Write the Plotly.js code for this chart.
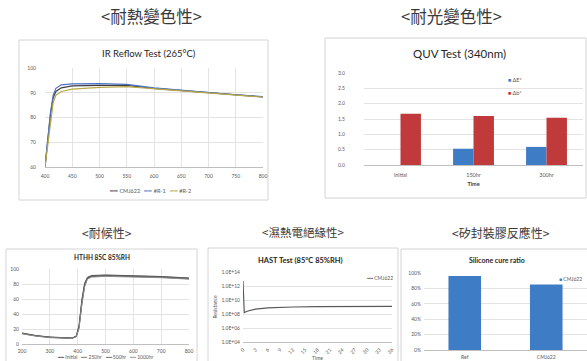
<!DOCTYPE html>
<html><head><meta charset="utf-8">
<script src="https://cdn.plot.ly/plotly-3.0.1.min.js"></script>
<style>html,body{margin:0;padding:0;background:#fff}#chart{width:587px;height:361px}</style>
</head><body><div id="chart"></div>
<script>
// IR reflow: reflectance (%) against wavelength (nm)
const irWavelength = [400, 405, 410, 415, 420, 430, 450, 500, 550, 600, 650, 700, 750, 800];
const irCMJ622 = [60, 70, 81, 88, 90.5, 92.0, 92.8, 93.0, 93.0, 91.8, 90.9, 89.9, 89.1, 88.3];
const irR1 = [60, 71, 82, 89, 91.8, 93.2, 93.6, 93.7, 93.4, 92.0, 91.0, 90.0, 89.2, 88.4];
const irR2 = [60, 68, 78, 86, 89.0, 90.5, 91.5, 92.2, 92.5, 91.6, 90.8, 89.8, 89.0, 88.2];

// QUV (340nm) colour shift by exposure time
const quvTime = ['initial', '150hr', '300hr'];
const quvDeltaE = [0, 0.53, 0.59];
const quvDeltab = [1.67, 1.60, 1.54];

// HTHH 85C 85%RH: reflectance (%) against wavelength (nm)
const hthhWavelength = [200, 250, 300, 350, 380, 395, 405, 415, 425, 435, 450, 500, 600, 700, 800];
const hthhInitial = [14.7, 11.3, 9.3, 8.0, 8.0, 10.7, 25, 58.7, 81, 89, 91.3, 92, 91.3, 90, 88];
const hthh250 = [14.2, 11.0, 9.0, 7.8, 7.8, 10.3, 23, 56, 79, 88, 90.5, 91.4, 90.8, 89.5, 87.5];
const hthh500 = [14.0, 10.8, 8.8, 7.6, 7.6, 10.0, 22, 54, 78, 87.2, 89.9, 90.8, 90.2, 89.0, 87.0];
const hthh1000 = [13.6, 10.5, 8.5, 7.4, 7.4, 9.6, 21, 52, 76, 86.5, 89.2, 90.2, 89.6, 88.4, 86.5];

// HAST 85C 85%RH: insulation resistance over time
const hastTime = [0, 0.3, 1, 2, 3, 6, 9, 12, 18, 24, 30, 36];
const hastResistance = [5e12, 1.6e8, 2.5e8, 3.5e8, 5e8, 7.5e8, 9e8, 1e9, 1.15e9, 1.2e9, 1.25e9, 1.25e9];
const hastTickVals = [1e4, 1e6, 1e8, 1e10, 1e12, 1e14];
const hastTickText = ['1.0E+04', '1.0E+06', '1.0E+08', '1.0E+10', '1.0E+12', '1.0E+14'];

// Silicone cure ratio (%)
const cureSamples = ['Ref', 'CMJ622'];
const cureRatio = [96, 85];

// Series colours
const C = {
  cmj: '#3f3f3f', r1: '#4f72c4', r2: '#b9a84a',
  blue: '#3f7cc6', red: '#c0393b',
  h0: '#404040', h250: '#6b6b6b', h500: '#555555', h1000: '#8a8a8a', hast: '#595959'
};

const W = 587, H = 361;
const fx = p => p / W;
const fy = p => 1 - p / H;
const dx = (a, b) => [fx(a), fx(b)];
const dy = (top, bottom) => [fy(bottom), fy(top)];

const LAT = 'Lato, "Open Sans", sans-serif';
const CJK = '"Noto Sans CJK TC", "Noto Sans CJK SC", sans-serif';
const tickFont = {family: LAT, size: 5, color: '#595959'};
const GRID = '#e3e3e3';

function axis(extra) {
  return Object.assign({
    showgrid: true, gridcolor: GRID, gridwidth: 1, zeroline: false, automargin: false,
    showline: false, ticks: '', tickfont: tickFont, fixedrange: true, ticklabelstandoff: 2
  }, extra);
}

const line = (x, y, name, color, w, ax) => ({
  x, y, name, type: 'scatter', mode: 'lines', line: {color, width: w},
  xaxis: 'x' + ax, yaxis: 'y' + ax, showlegend: false
});

const traces = [
  line(irWavelength, irCMJ622, 'CMJ622', C.cmj, 1.2, ''),
  line(irWavelength, irR1, '#R-1', C.r1, 1.2, ''),
  line(irWavelength, irR2, '#R-2', C.r2, 1.2, ''),
  {x: quvTime, y: quvDeltaE, name: 'ΔE*', type: 'bar', marker: {color: C.blue},
   xaxis: 'x2', yaxis: 'y2', showlegend: false},
  {x: quvTime, y: quvDeltab, name: 'Δb*', type: 'bar', marker: {color: C.red},
   xaxis: 'x2', yaxis: 'y2', showlegend: false},
  line(hthhWavelength, hthhInitial, 'Initial', C.h0, 1, '3'),
  line(hthhWavelength, hthh250, '250hr', C.h250, 1, '3'),
  line(hthhWavelength, hthh500, '500hr', C.h500, 1, '3'),
  line(hthhWavelength, hthh1000, '1000hr', C.h1000, 1, '3'),
  line(hastTime, hastResistance, 'CMJ622', C.hast, 1.2, '4'),
  {x: cureSamples, y: cureRatio, name: 'CMJ622', type: 'bar', width: 0.4,
   marker: {color: C.blue}, xaxis: 'x5', yaxis: 'y5', showlegend: false}
];

const box = (x0, y0, x1, y1) => ({
  type: 'rect', xref: 'paper', yref: 'paper',
  x0: fx(x0), x1: fx(x1), y0: fy(y1), y1: fy(y0),
  line: {color: '#d4d4d4', width: 1}, fillcolor: 'rgba(0,0,0,0)', layer: 'below'
});

const note = (text, x, y, font, xanchor) => ({
  text, x: fx(x), y: fy(y), xref: 'paper', yref: 'paper',
  showarrow: false, xanchor: xanchor || 'center', yanchor: 'middle', font
});

const headFont = s => ({family: CJK, size: s, color: '#3a3a3a'});
const titleFont = s => ({family: LAT, size: s, color: '#262626'});
const keyFont = s => ({family: LAT, size: s, color: '#595959'});

// compact legend entries
const lineKey = (color, label) => `<span style="color:${color}">━━</span> ${label}`;
const boxKey = (color, label) => `<span style="color:${color}">■</span> ${label}`;
const gap = '&nbsp;&nbsp;&nbsp;';

const layout = {
  width: W, height: H,
  margin: {l: 0, r: 0, t: 0, b: 0},
  paper_bgcolor: '#ffffff', plot_bgcolor: 'rgba(0,0,0,0)',
  barmode: 'group', bargap: 0.44, bargroupgap: 0,
  showlegend: false,

  xaxis: axis({domain: dx(45, 263), range: [400, 800], dtick: 50, anchor: 'y',
               showline: true, linecolor: '#bfbfbf', ticklabelstandoff: 4}),
  yaxis: axis({domain: dy(68, 167), range: [60, 100], dtick: 10, anchor: 'x',
               ticklabelstandoff: 8}),

  xaxis2: axis({domain: dx(364, 583), anchor: 'y2', showgrid: false, showline: true,
                linecolor: '#bfbfbf', tickfont: Object.assign({}, tickFont, {size: 5.5}),
                ticklabelstandoff: 4,
                title: {text: '<b>Time</b>', font: {family: LAT, size: 5.5, color: '#404040'}, standoff: 5}}),
  yaxis2: axis({domain: dy(73, 165), range: [0, 3], dtick: 0.5, tickformat: '.1f', anchor: 'x2',
                ticklabelstandoff: 18}),

  xaxis3: axis({domain: dx(22, 189), range: [200, 800], dtick: 100, anchor: 'y3',
                showline: true, linecolor: '#bfbfbf'}),
  yaxis3: axis({domain: dy(269, 344), range: [0, 100], dtick: 20, anchor: 'x3'}),

  xaxis4: axis({domain: dx(243, 392), range: [0, 36], dtick: 3, anchor: 'y4', showgrid: false,
                tickangle: -45, showline: true, linecolor: '#bfbfbf',
                title: {text: 'Time', font: {family: LAT, size: 5, color: '#595959'}, standoff: 2}}),
  yaxis4: axis({domain: dy(272, 342), type: 'log', range: [4, 14], anchor: 'x4',
                tickvals: hastTickVals, ticktext: hastTickText,
                title: {text: 'Resistance', font: {family: LAT, size: 5, color: '#595959'}, standoff: 3}}),

  xaxis5: axis({domain: dx(424, 590), anchor: 'y5', showgrid: false, showline: true,
                linecolor: '#bfbfbf'}),
  yaxis5: axis({domain: dy(273, 350), range: [0, 100], dtick: 20, ticksuffix: '%', anchor: 'x5'}),

  shapes: [
    box(19, 40, 268, 200),
    box(325, 38, 586, 198),
    box(6, 249, 197, 370),
    box(208, 248, 398, 370),
    box(401, 249, 592, 370)
  ],

  annotations: [
    note('&lt;耐熱變色性&gt;', 151, 16, headFont(16.5)),
    note('&lt;耐光變色性&gt;', 451, 16, headFont(16.5)),
    note('&lt;耐候性&gt;', 107, 232, headFont(12)),
    note('&lt;濕熱電絕緣性&gt;', 303, 232, headFont(11.5)),
    note('&lt;矽封裝膠反應性&gt;', 501, 232, headFont(12)),
    note('IR Reflow Test (265°C)', 149, 53, titleFont(9.5)),
    note('QUV Test (340nm)', 459, 53, titleFont(11.5)),
    note('<b>HTHH 85C 85%RH</b>', 102, 257, titleFont(6.5)),
    note('<b>HAST Test (85°C 85%RH)</b>', 300, 260, titleFont(7.5)),
    note('<b>Silicone cure ratio</b>', 497, 260, titleFont(7)),
    // legends
    note([lineKey(C.cmj, 'CMJ622'), lineKey(C.r1, '#R-1'), lineKey(C.r2, '#R-2')].join(gap),
         150, 191, keyFont(5.5)),
    note(boxKey(C.blue, 'ΔE*'), 506, 80, keyFont(5.5), 'left'),
    note(boxKey(C.red, 'Δb*'), 506, 93, keyFont(5.5), 'left'),
    note([lineKey(C.h0, 'Initial'), lineKey(C.h250, '250hr'), lineKey(C.h500, '500hr'),
          lineKey(C.h1000, '1000hr')].join(gap), 105, 357, keyFont(5)),
    note(lineKey(C.hast, 'CMJ622'), 364, 278, keyFont(5), 'left'),
    note(boxKey(C.blue, 'CMJ622'), 557, 279, keyFont(5), 'left')
  ]
};

Plotly.newPlot('chart', traces, layout, {staticPlot: true, displayModeBar: false});
</script>
</body></html>
